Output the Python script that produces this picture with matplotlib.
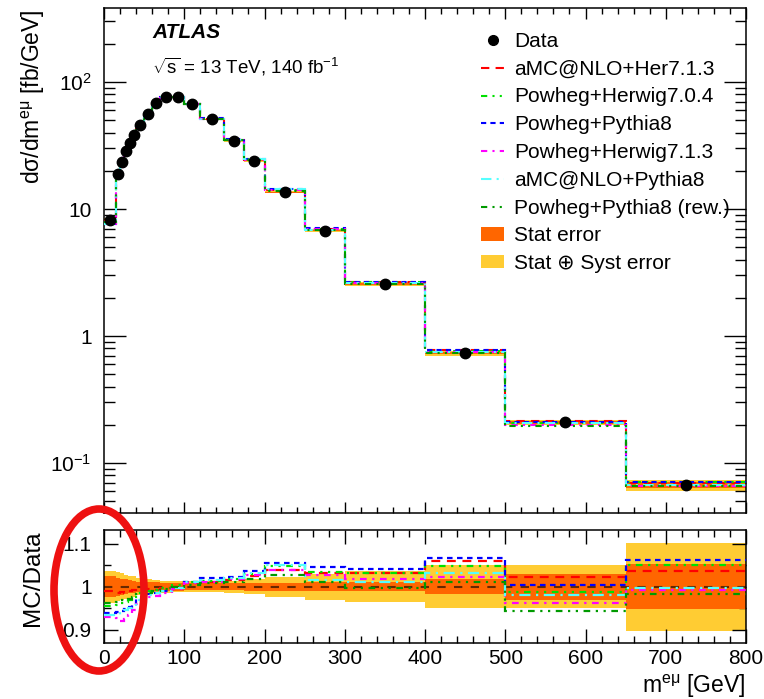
import numpy as np
import matplotlib
matplotlib.use("Agg")
import matplotlib.pyplot as plt
from matplotlib.lines import Line2D
from matplotlib.patches import Patch, Ellipse
from matplotlib.ticker import MultipleLocator, LogLocator, NullFormatter

plt.rcParams['font.family'] = ['Liberation Sans', 'DejaVu Sans']
plt.rcParams['mathtext.fontset'] = 'custom'
plt.rcParams['mathtext.rm'] = 'Liberation Sans'
plt.rcParams['mathtext.it'] = 'Liberation Sans:italic'
plt.rcParams['mathtext.bf'] = 'Liberation Sans:bold'

# ---------------- data ----------------
bin_edges = [0, 15, 20, 25, 30, 35, 40, 50, 60, 70, 85, 100, 120, 150, 175,
             200, 250, 300, 400, 500, 650, 800]
data_xsec = [8.2, 18.9, 23.5, 28.6, 33.3, 38.3, 45.6, 55.7, 68.0, 76.6, 76.2,
             66.7, 50.8, 34.5, 23.9, 13.6, 6.75, 2.57, 0.73, 0.209, 0.067]
stat_err = [0.024, 0.021, 0.019, 0.017, 0.015, 0.014, 0.012, 0.011, 0.010, 0.009,
            0.009, 0.008, 0.008, 0.008, 0.009, 0.009, 0.010, 0.010, 0.018, 0.030, 0.053]
total_err = [0.037, 0.034, 0.031, 0.028, 0.026, 0.024, 0.020, 0.017, 0.015, 0.014,
             0.013, 0.013, 0.013, 0.014, 0.018, 0.023, 0.030, 0.036, 0.050, 0.050, 0.102]

ratio_amc_her713 = [0.990, 0.985, 0.988, 0.985, 0.990, 0.993, 0.997, 0.995, 0.993, 0.997,
                    1.000, 1.008, 1.012, 1.015, 1.025, 1.040, 1.033, 1.031, 1.060, 1.022, 1.036]
ratio_pow_her704 = [0.955, 0.958, 0.962, 0.965, 0.970, 0.975, 0.985, 0.990, 0.992, 0.998,
                    1.003, 1.010, 1.013, 1.018, 1.030, 1.048, 1.035, 1.031, 1.048, 0.988, 1.050]
ratio_pow_py8 = [0.938, 0.940, 0.943, 0.948, 0.952, 0.958, 0.972, 0.982, 0.985, 0.990,
                 0.997, 1.010, 1.020, 1.023, 1.037, 1.055, 1.045, 1.042, 1.066, 1.005, 1.062]
ratio_pow_her713 = [0.930, 0.928, 0.920, 0.925, 0.935, 0.945, 0.960, 0.975, 0.978, 0.985,
                    0.995, 1.008, 1.012, 1.017, 1.027, 1.040, 1.027, 1.018, 1.023, 0.961, 0.992]
ratio_amc_py8 = [0.935, 0.935, 0.940, 0.945, 0.950, 0.955, 0.970, 0.980, 0.985, 0.990,
                 0.998, 1.010, 1.015, 1.020, 1.033, 1.050, 1.016, 1.010, 1.033, 0.981, 0.996]
ratio_pow_py8_rew = [0.962, 0.965, 0.968, 0.970, 0.972, 0.975, 0.982, 0.985, 0.990, 0.995,
                     1.000, 1.005, 1.008, 1.010, 1.017, 1.027, 1.012, 0.998, 1.012, 0.943, 0.982]

model_names = ["aMC@NLO+Her7.1.3", "Powheg+Herwig7.0.4", "Powheg+Pythia8",
               "Powheg+Herwig7.1.3", "aMC@NLO+Pythia8", "Powheg+Pythia8 (rew.)"]
model_ratios = [ratio_amc_her713, ratio_pow_her704, ratio_pow_py8,
                ratio_pow_her713, ratio_amc_py8, ratio_pow_py8_rew]
model_colors = ["#ff0000", "#00e000", "#0000ff", "#ff00ff", "#55ffff", "#009a00"]
model_styles = [(0, (4, 3)), (0, (3, 2.5, 1, 2.5, 1, 2.5)), (0, (2.5, 2)),
                (0, (3, 2.5, 1, 2.5)), (0, (5, 2.5, 1, 2.5)), (0, (3, 2.5, 1, 2.5, 1, 2.5))]

x_ticks = [0, 100, 200, 300, 400, 500, 600, 700, 800]

edges = np.array(bin_edges, dtype=float)
centers = 0.5 * (edges[:-1] + edges[1:])
data = np.array(data_xsec)
stat = np.array(stat_err)
tot = np.array(total_err)

W, H = 764, 699
fig = plt.figure(figsize=(W / 100, H / 100), dpi=100)

def px_rect(l, t, r, b):
    return [l / W, 1 - b / H, (r - l) / W, (b - t) / H]

ax = fig.add_axes(px_rect(104, 8, 746, 513))
axr = fig.add_axes(px_rect(104, 530, 746, 643))

COL_STAT = "#ff6600"
COL_TOT = "#ffcc33"

# ---- main panel ----
ax.stairs(data * (1 + tot), edges, baseline=data * (1 - tot), fill=True,
          color=COL_TOT, lw=0, zorder=1)
ax.stairs(data * (1 + stat), edges, baseline=data * (1 - stat), fill=True,
          color=COL_STAT, lw=0, zorder=2)
for r, c, ls in zip(model_ratios, model_colors, model_styles):
    ax.stairs(data * np.array(r), edges, baseline=None, color=c, ls=ls, lw=1.5, zorder=3)
ax.plot(centers, data, 'o', color='black', ms=7.5, zorder=5)

ax.set_yscale('log')
ax.set_ylim(0.0404, 383)
ax.set_xlim(0, 800)
ax.set_yticks([0.1, 1, 10, 100], labels=[r'10$^{-1}$', '1', '10', r'10$^{2}$'])
ax.yaxis.set_minor_locator(LogLocator(base=10, subs=np.arange(2, 10)))
ax.yaxis.set_minor_formatter(NullFormatter())
ax.xaxis.set_major_locator(MultipleLocator(100))
ax.xaxis.set_minor_locator(MultipleLocator(20))
ax.tick_params(axis='x', which='major', direction='in', length=8, width=1, top=True, labelbottom=False)
ax.tick_params(axis='x', which='minor', direction='in', length=4, width=1, top=True)
ax.tick_params(axis='y', which='major', direction='in', length=16, width=1, right=True,
               labelsize=15, pad=9)
ax.tick_params(axis='y', which='minor', direction='in', length=8, width=1, right=True)
for s in ax.spines.values():
    s.set_linewidth(1.1)

# legend
handles = [Line2D([], [], marker='o', color='black', ls='none', ms=7)]
for c, ls in zip(model_colors, model_styles):
    handles.append(Line2D([], [], color=c, ls=ls, lw=1.5))
handles.append(Patch(facecolor=COL_STAT, edgecolor='none'))
handles.append(Patch(facecolor=COL_TOT, edgecolor='none'))
labels = ["Data"] + model_names + ["Stat error", "Stat \u2295 Syst error"]
fig.legend(handles, labels, loc='upper left', bbox_to_anchor=(481 / W, 1 - 32 / H),
           frameon=False, fontsize=15, handlelength=1.12, handletextpad=0.48,
           labelspacing=0.42, borderpad=0, borderaxespad=0, handleheight=0.6)

fig.text(152 / W, 1 - 33 / H, "ATLAS", fontsize=15, fontweight='bold', fontstyle='italic',
         ha='left', va='center')
fig.text(152 / W, 1 - 67 / H, r'$\sqrt{\mathregular{s}}$ = 13 TeV, 140 fb$^{\mathregular{-1}}$',
         fontsize=13.5, ha='left', va='center')

fig.text(33 / W, 1 - 9 / H, r'd$\mathregular{\sigma}$/dm$^{\mathregular{e\mu}}$ [fb/GeV]',
         fontsize=16.5, rotation=90, ha='center', va='top')

# ---- ratio panel ----
axr.stairs(1 + tot, edges, baseline=1 - tot, fill=True, color=COL_TOT, lw=0, zorder=1)
axr.stairs(1 + stat, edges, baseline=1 - stat, fill=True, color=COL_STAT, lw=0, zorder=2)
axr.axhline(1.0, color='#000000', alpha=0.6, ls=(0, (4, 4)), lw=1.5, zorder=3)
for r, c, ls in zip(model_ratios, model_colors, model_styles):
    axr.stairs(np.array(r), edges, baseline=None, color=c, ls=ls, lw=1.6, zorder=4)

axr.set_xlim(0, 800)
axr.set_ylim(0.869, 1.132)
axr.set_xticks(x_ticks)
axr.xaxis.set_minor_locator(MultipleLocator(20))
axr.set_yticks([0.9, 1.0, 1.1], labels=['0.9', '1', '1.1'])
axr.yaxis.set_minor_locator(MultipleLocator(0.05))
axr.tick_params(axis='x', which='major', direction='in', length=10, width=1, top=True,
                labelsize=15, pad=4)
axr.tick_params(axis='x', which='minor', direction='in', length=5, width=1, top=True)
axr.tick_params(axis='y', which='major', direction='in', length=10, width=1, right=True,
                labelsize=15, pad=9)
axr.tick_params(axis='y', which='minor', direction='in', length=5, width=1, right=True)
for s in axr.spines.values():
    s.set_linewidth(1.1)

fig.text(33 / W, 1 - 578 / H, 'MC/Data', fontsize=17.5, rotation=90, ha='center', va='center')
fig.text(745 / W, 1 - 686 / H, r'm$^{\mathregular{e\mu}}$ [GeV]', fontsize=16.5,
         ha='right', va='center')

# red highlight ellipse
ell = Ellipse((99 / W, 1 - 590 / H), 90 / W, 162 / H, transform=fig.transFigure,
              fill=False, edgecolor='#ee1111', lw=5.5, zorder=20)
fig.add_artist(ell)

fig.savefig("out.png", dpi=100)
